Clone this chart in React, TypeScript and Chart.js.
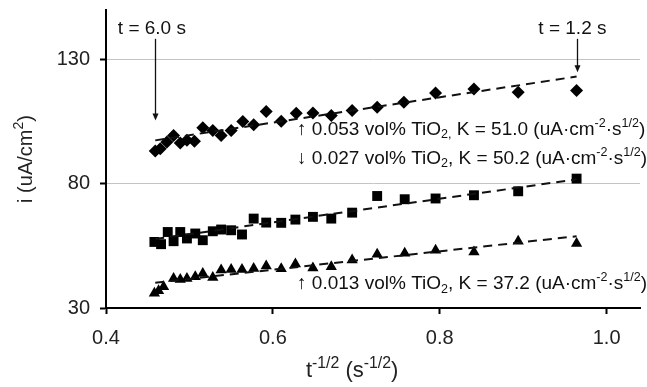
import React, { useEffect, useRef } from 'react';
import { Chart, registerables } from 'chart.js';
Chart.register(...registerables);

// 0.053 vol% TiO2 (diamonds)
const diamondX = [0.459, 0.465, 0.473, 0.481, 0.489, 0.497, 0.506, 0.516, 0.528, 0.538, 0.550, 0.564, 0.577, 0.592, 0.610, 0.628, 0.648, 0.670, 0.695, 0.725, 0.757, 0.795, 0.841, 0.894, 0.964];
const diamondY = [93.2, 94.1, 96.8, 99.5, 96.4, 97.6, 97.1, 102.6, 101.5, 99.5, 101.5, 105.1, 103.8, 109.1, 105.2, 108.4, 108.5, 107.5, 109.5, 110.8, 112.9, 116.6, 118.2, 116.9, 117.6];
// 0.027 vol% TiO2 (squares)
const squareX = [0.458, 0.466, 0.474, 0.481, 0.489, 0.497, 0.507, 0.516, 0.528, 0.538, 0.550, 0.563, 0.577, 0.592, 0.610, 0.627, 0.648, 0.670, 0.695, 0.725, 0.758, 0.795, 0.841, 0.894, 0.964];
const squareY = [56.6, 55.7, 60.6, 56.9, 60.6, 58.0, 60.0, 57.3, 60.9, 61.6, 61.3, 59.6, 66.0, 64.4, 64.3, 65.6, 66.7, 66.0, 68.4, 75.1, 73.8, 74.1, 75.4, 77.0, 82.1];
// 0.013 vol% TiO2 (triangles)
const triangleX = [0.458, 0.463, 0.469, 0.481, 0.489, 0.497, 0.507, 0.516, 0.528, 0.538, 0.550, 0.563, 0.577, 0.592, 0.610, 0.627, 0.648, 0.670, 0.695, 0.725, 0.758, 0.795, 0.841, 0.894, 0.964];
const triangleY = [35.9, 36.9, 38.6, 41.9, 41.5, 41.9, 42.6, 43.9, 42.3, 45.3, 45.5, 45.5, 45.9, 46.9, 45.8, 47.7, 46.1, 46.6, 49.3, 51.6, 52.0, 53.3, 52.6, 56.9, 56.0];

// linear fits (end points)
const fitX = [0.459, 0.964];
const diamondFitY = [97.5, 123.2];
const squareFitY = [57.8, 81.8];
const triangleFitY = [40.2, 58.9];

const xTicks = [0.4, 0.6, 0.8, 1.0];
const yTicks = [30, 80, 130];

const FAM = '"Liberation Sans", Arial, sans-serif';

type Seg = { t: string; sup?: boolean; sub?: boolean };

const labelTop: Seg[] = [{ t: '\u2191 0.053 vol% TiO' }, { t: '2,', sub: true }, { t: ' K = 51.0 (uA\u00b7cm' }, { t: '-2', sup: true }, { t: '\u00b7s' }, { t: '1/2', sup: true }, { t: ')' }];
const labelMid: Seg[] = [{ t: '\u2193 0.027 vol% TiO' }, { t: '2', sub: true }, { t: ', K = 50.2 (uA\u00b7cm' }, { t: '-2', sup: true }, { t: '\u00b7s' }, { t: '1/2', sup: true }, { t: ')' }];
const labelLow: Seg[] = [{ t: '\u2191 0.013 vol% TiO' }, { t: '2', sub: true }, { t: ', K = 37.2 (uA\u00b7cm' }, { t: '-2', sup: true }, { t: '\u00b7s' }, { t: '1/2', sup: true }, { t: ')' }];
const labelPos = [
  { x: 0.629, y: 101.9 },
  { x: 0.629, y: 90.2 },
  { x: 0.629, y: 39.6 },
];
const timeLabels = ['t = 6.0 s', 't = 1.2 s'];
const timeLabelPos = [{ x: 0.455, y: 142.4 }, { x: 0.959, y: 142.4 }];
const arrowX = [0.459, 0.965];
const arrowFromY = [138.4, 138.4];
const arrowToY = [105.5, 124.9];

const yTitle: Seg[] = [{ t: 'i (uA/cm' }, { t: '2', sup: true }, { t: ')' }];
const xTitle: Seg[] = [{ t: 't' }, { t: '-1/2', sup: true }, { t: ' (s' }, { t: '-1/2', sup: true }, { t: ')' }];

function drawRich(ctx: CanvasRenderingContext2D, segs: Seg[], x: number, y: number, size: number, align: 'left' | 'center', ratio = 0.66) {
  const small = size * ratio;
  let total = 0;
  for (const s of segs) {
    ctx.font = `${s.sup || s.sub ? small : size}px ${FAM}`;
    total += ctx.measureText(s.t).width;
  }
  let cx = align === 'center' ? x - total / 2 : x;
  ctx.textAlign = 'left';
  ctx.textBaseline = 'middle';
  for (const s of segs) {
    ctx.font = `${s.sup || s.sub ? small : size}px ${FAM}`;
    const dy = s.sup ? -size * 0.33 : s.sub ? size * 0.28 : 0;
    ctx.fillText(s.t, cx, y + dy);
    cx += ctx.measureText(s.t).width;
  }
}

const annotations = {
  id: 'annotations',
  afterDraw(chart: any) {
    const { ctx, scales } = chart;
    const xs = scales.x;
    const ys = scales.y;
    ctx.save();
    ctx.fillStyle = '#111';
    [labelTop, labelMid, labelLow].forEach((segs, i) => {
      drawRich(ctx, segs, xs.getPixelForValue(labelPos[i].x), ys.getPixelForValue(labelPos[i].y), 19, 'left');
    });
    timeLabels.forEach((t, i) => {
      drawRich(ctx, [{ t }], xs.getPixelForValue(timeLabelPos[i].x), ys.getPixelForValue(timeLabelPos[i].y), 19, 'center');
    });
    ctx.strokeStyle = '#111';
    ctx.lineWidth = 1.3;
    arrowX.forEach((ax, i) => {
      const px = Math.round(xs.getPixelForValue(ax)) + 0.5;
      const y1 = ys.getPixelForValue(arrowFromY[i]);
      const y2 = ys.getPixelForValue(arrowToY[i]);
      ctx.beginPath();
      ctx.moveTo(px, y1);
      ctx.lineTo(px, y2 - 5);
      ctx.stroke();
      ctx.beginPath();
      ctx.moveTo(px - 3, y2 - 7);
      ctx.lineTo(px + 3, y2 - 7);
      ctx.lineTo(px, y2);
      ctx.closePath();
      ctx.fill();
    });
    // axis titles
    ctx.fillStyle = '#222';
    ctx.save();
    ctx.translate(26, ys.getPixelForValue(90));
    ctx.rotate(-Math.PI / 2);
    drawRich(ctx, yTitle, 0, 0, 20, 'center', 0.7);
    ctx.restore();
    drawRich(ctx, xTitle, xs.getPixelForValue(0.695), chart.height - 16, 22, 'center', 0.72);
    ctx.restore();
  },
};

export default function App() {
  const ref = useRef<HTMLCanvasElement>(null);
  useEffect(() => {
    if (!ref.current) return;
    const mk = (xArr: number[], yArr: number[]) => xArr.map((x, i) => ({ x, y: yArr[i] }));
    const fitDs = (yArr: number[]) => ({
      type: 'line' as const,
      data: mk(fitX, yArr),
      borderColor: '#111',
      borderWidth: 2,
      borderDash: [9, 6],
      pointRadius: 0,
      showLine: true,
      fill: false,
    });
    const ptDs = (xArr: number[], yArr: number[], style: string, r: number) => ({
      data: mk(xArr, yArr),
      pointStyle: style,
      pointRadius: r,
      backgroundColor: '#000',
      borderColor: '#000',
      borderWidth: 0,
      showLine: false,
    });
    const chart = new Chart(ref.current, {
      type: 'scatter',
      data: {
        datasets: [
          fitDs(diamondFitY),
          fitDs(squareFitY),
          fitDs(triangleFitY),
          ptDs(diamondX, diamondY, 'rectRot', 6.5),
          ptDs(squareX, squareY, 'rect', 7),
          ptDs(triangleX, triangleY, 'triangle', 6.5),
        ] as any,
      },
      options: {
        animation: false,
        responsive: false,
        devicePixelRatio: 1,
        layout: { padding: { top: 10, right: 0, left: 0, bottom: 0 } },
        plugins: { legend: { display: false }, tooltip: { enabled: false } },
        scales: {
          x: {
            type: 'linear',
            min: 0.4,
            max: 1.04,
            afterBuildTicks: (axis: any) => { axis.ticks = xTicks.map((v) => ({ value: v })); },
            afterFit: (scale: any) => { scale.height = 79; scale.paddingLeft = 0; scale.paddingRight = 0; },
            ticks: {
              callback: (v: any) => Number(v).toFixed(1),
              font: { size: 20, family: FAM },
              color: '#222',
              padding: 12,
              maxRotation: 0,
            },
            grid: { drawOnChartArea: false, drawTicks: true, tickLength: 6, tickColor: '#000', tickWidth: 2 },
            border: { color: '#000', width: 2 },
          },
          y: {
            type: 'linear',
            min: 30,
            max: 150,
            afterBuildTicks: (axis: any) => { axis.ticks = yTicks.map((v) => ({ value: v })); },
            afterFit: (scale: any) => { scale.width = 106; scale.paddingTop = 0; scale.paddingBottom = 0; },
            ticks: {
              font: { size: 20, family: FAM },
              color: '#222',
              padding: 10,
            },
            grid: {
              color: (c: any) => (c.tick && c.tick.value === 30 ? 'rgba(0,0,0,0)' : '#c4c4c4'),
              lineWidth: 1,
              tickLength: 6,
              tickColor: '#000',
              tickWidth: 2,
            },
            border: { color: '#000', width: 2 },
          },
        },
      },
      plugins: [annotations],
    });
    return () => chart.destroy();
  }, []);
  return (
    <div style={{ position: 'absolute', left: 0, top: 0, width: 647, height: 387, background: '#fff' }}>
      <canvas ref={ref} width={647} height={387} />
    </div>
  );
}
